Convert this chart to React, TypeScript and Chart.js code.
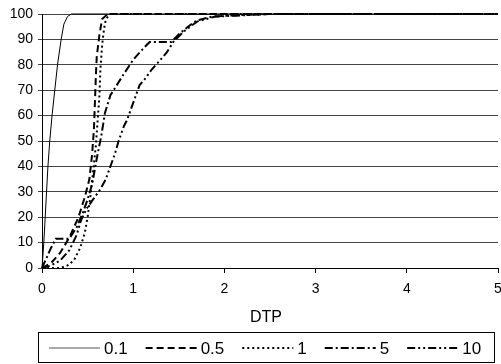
import React, { useEffect, useRef } from 'react';
import { Chart, registerables } from 'chart.js';

Chart.register(...registerables);

const FONT = '"Liberation Sans", Arial, Helvetica, sans-serif';

const seriesLabels = ['0.1', '0.5', '1', '5', '10'];

// series "0.1"
const s01X = [0, 0.02, 0.035, 0.05, 0.065, 0.085, 0.11, 0.14, 0.17, 0.21, 0.24, 0.28, 0.32, 5];
const s01Y = [0, 10, 20, 30, 40, 50, 60, 70, 80, 90, 96, 99, 100, 100];

// series "0.5"
const s05X = [0, 0.1, 0.2, 0.3, 0.4, 0.47, 0.52, 0.55, 0.57, 0.58, 0.59, 0.6, 0.63, 0.66, 0.72, 5];
const s05Y = [0, 2, 6, 12, 20, 28, 35, 45, 55, 65, 75, 83, 92, 98, 100, 100];

// series "1"
const s1X = [0, 0.2, 0.28, 0.35, 0.42, 0.47, 0.5, 0.53, 0.56, 0.59, 0.61, 0.63, 0.64, 0.66, 0.68, 0.7, 0.75, 5];
const s1Y = [0, 0, 1, 3, 8, 14, 20, 28, 38, 48, 58, 68, 78, 88, 94, 98, 100, 100];

// series "5"
const s5X = [0, 0.05, 0.1, 0.15, 0.3, 0.38, 0.45, 0.5, 0.55, 0.6, 0.65, 0.69, 0.75, 0.82, 0.89, 1.0, 1.1, 1.18, 1.42, 1.5, 1.6, 1.7, 1.87, 2.0, 2.5, 5];
const s5Y = [0, 4, 8, 11.5, 11.5, 16, 22, 27, 33, 43, 52, 61, 68, 72, 76, 82, 86, 89, 89, 92, 95, 97.5, 99, 99.3, 100, 100];

// series "10"
const s10X = [0, 0.1, 0.2, 0.3, 0.38, 0.43, 0.49, 0.56, 0.64, 0.7, 0.75, 0.8, 0.84, 0.9, 0.93, 1.0, 1.07, 1.12, 1.2, 1.3, 1.37, 1.44, 1.55, 1.7, 1.9, 2.1, 2.5, 5];
const s10Y = [0, 1, 3, 7, 13, 19, 23.4, 27, 31, 35, 40, 45, 50, 56, 58, 65, 72, 74, 78, 82, 85, 89, 93, 97, 99, 99.3, 100, 100];

const xTickValues = [0, 1, 2, 3, 4, 5];
const yTickValues = [0, 10, 20, 30, 40, 50, 60, 70, 80, 90, 100];
const xAxisTitle = 'DTP';

const seriesX = [s01X, s05X, s1X, s5X, s10X];
const seriesY = [s01Y, s05Y, s1Y, s5Y, s10Y];
const dashes: number[][] = [[], [7, 4], [2, 3], [8, 3, 2, 3], [8, 3, 2, 3, 2, 3]];
const widths = [1, 2, 2, 2, 2];

const legendPlugin = {
  id: 'boxLegend',
  afterDraw(chart: any) {
    const ctx = chart.ctx as CanvasRenderingContext2D;
    const area = chart.chartArea;
    ctx.save();
    ctx.fillStyle = '#000';
    ctx.font = `16px ${FONT}`;
    ctx.textAlign = 'center';
    ctx.textBaseline = 'middle';
    ctx.fillText(xAxisTitle, (area.left + area.right) / 2 - 4, area.bottom + 50);

    const boxTop = area.bottom + 64.5;
    ctx.strokeStyle = '#000';
    ctx.lineWidth = 1;
    ctx.setLineDash([]);
    ctx.strokeRect(38.5, boxTop, 456, 30);

    ctx.font = `17px ${FONT}`;
    ctx.textAlign = 'left';
    const y = boxTop + 15.5;
    let x = 49;
    chart.data.datasets.forEach((ds: any) => {
      ctx.save();
      ctx.strokeStyle = ds.borderWidth === 1 ? '#555' : '#000';
      ctx.lineWidth = ds.borderWidth;
      ctx.setLineDash(ds.borderDash || []);
      ctx.beginPath();
      ctx.moveTo(x, y);
      ctx.lineTo(x + 51, y);
      ctx.stroke();
      ctx.restore();
      ctx.fillText(ds.label, x + 55, y + 1);
      x += 55 + ctx.measureText(ds.label).width + 18;
    });
    ctx.restore();
  },
};

export default function App() {
  const ref = useRef<HTMLCanvasElement | null>(null);

  useEffect(() => {
    document.body.style.margin = '0';
    if (!ref.current) return;
    const datasets = seriesLabels.map((label, i) => ({
      label,
      data: seriesX[i].map((xv, j) => ({ x: xv, y: seriesY[i][j] })),
      borderColor: '#000',
      backgroundColor: '#000',
      borderWidth: widths[i],
      borderDash: dashes[i],
      pointRadius: 0,
      tension: 0,
      fill: false,
      clip: false as any,
    }));
    const chart = new Chart(ref.current, {
      type: 'line',
      data: { datasets },
      options: {
        animation: false,
        responsive: false,
        maintainAspectRatio: false,
        layout: { padding: { top: 14, right: 3, bottom: 70, left: 0 } },
        plugins: { legend: { display: false }, tooltip: { enabled: false } },
        scales: {
          x: {
            type: 'linear',
            min: 0,
            max: 5,
            afterBuildTicks: (s: any) => {
              s.ticks = xTickValues.map((v) => ({ value: v }));
            },
            afterFit: (s: any) => {
              s.paddingLeft = 0;
              s.paddingRight = 0;
              s.height = 26;
            },
            ticks: { color: '#000', font: { size: 14, family: FONT }, padding: 8, maxRotation: 0, autoSkip: false },
            grid: { drawOnChartArea: false, drawTicks: true, tickLength: 5, color: '#000' },
            border: { color: '#000', width: 1 },
          },
          y: {
            type: 'linear',
            min: 0,
            max: 100,
            afterBuildTicks: (s: any) => {
              s.ticks = yTickValues.map((v) => ({ value: v }));
            },
            afterFit: (s: any) => {
              s.width = 42;
              s.paddingTop = 0;
              s.paddingBottom = 0;
            },
            ticks: { color: '#000', font: { size: 14, family: FONT }, padding: 5 },
            grid: { color: '#444', tickLength: 4, drawTicks: true },
            border: { color: '#000', width: 1 },
          },
        },
      },
      plugins: [legendPlugin],
    });
    return () => chart.destroy();
  }, []);

  return (
    <div style={{ width: 501, height: 364 }}>
      <canvas ref={ref} width={501} height={364} style={{ display: 'block' }} />
    </div>
  );
}
